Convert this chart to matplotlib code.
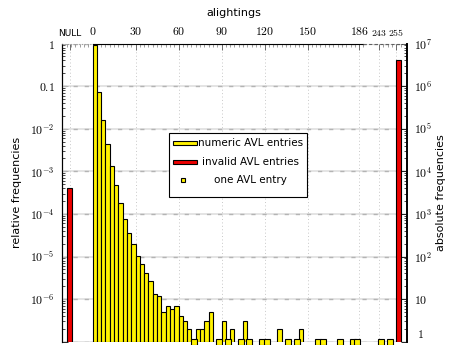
import numpy as np
import matplotlib
matplotlib.use('Agg')
import matplotlib.pyplot as plt
from matplotlib.ticker import FixedLocator, FuncFormatter, LogLocator, NullFormatter
from matplotlib.patches import Rectangle
from matplotlib.lines import Line2D
import matplotlib.transforms as mtransforms

plt.rcParams['mathtext.fontset'] = 'cm'
plt.rcParams['font.family'] = ['DejaVu Sans']

# ---------------- data ----------------
bin_width = 3
numeric_bin_starts = list(range(0, 186, 3)) + [243, 249]
numeric_counts = [
    9100000, 720000, 160000, 43000, 13500, 4700, 1780, 740, 347, 200,
    105, 65, 41, 26, 13, 12, 5, 7, 6, 7,
    4, 3, 2, 1, 2, 2, 3, 5, 0, 1,
    3, 1, 2, 0, 1, 3, 1, 0, 0, 1,
    1, 0, 0, 2, 0, 1, 0, 1, 2, 0,
    0, 0, 1, 1, 0, 0, 0, 1, 0, 0,
    1, 1,
    1, 1,
]
invalid_positions = [-17.5, 255]
invalid_counts = [4000, 4000000]
invalid_width = 3.5
total_entries = 1e7

top_tick_values = [-15.75, 0, 30, 60, 90, 120, 150, 186, 243, 255]
top_tick_labels = ['NULL', '0', '30', '60', '90', '120', '150', '186', '243', '255']

legend_labels = ['numeric AVL entries', 'invalid AVL entries', 'one AVL entry']

YELLOW = '#fff200'
RED = '#ee0000'

# axis break: values between 190 and 240 are compressed
brk_in = np.array([-1000., 190., 240., 1000.])
brk_out = np.array([-1000., 190., 197., 957.])
def fwd(v):
    return np.interp(v, brk_in, brk_out)
def inv(u):
    return np.interp(u, brk_out, brk_in)

# ---------------- figure ----------------
W, H = 453, 345
fig = plt.figure(figsize=(W / 100, H / 100), dpi=100)
ax = fig.add_axes([61.7 / W, 3.3 / H, 345 / W, 298.2 / H])
ax.set_xscale('function', functions=(fwd, inv))
ax.set_yscale('log')
ax.set_xlim(-21.5, 262.2)
ax.set_ylim(1, 1e7)

starts = np.array(numeric_bin_starts, dtype=float)
counts = np.array(numeric_counts, dtype=float)
multi = counts >= 2
single = counts == 1

ax.bar(starts[multi], counts[multi] - 1, width=bin_width, bottom=1, align='edge',
       color=YELLOW, edgecolor='black', linewidth=0.8, zorder=3)
ax.plot(starts[single] + bin_width / 2, counts[single], 's', ms=4.2,
        mfc=YELLOW, mec='black', mew=0.8, zorder=4, clip_on=False)
ax.bar(invalid_positions, np.array(invalid_counts) - 1, width=invalid_width, bottom=1,
       align='edge', color=RED, edgecolor='black', linewidth=0.8, zorder=3)

# grid
ax.grid(False)
for k in range(0, 8):
    ax.axhline(10.0 ** k, color='#dcdcdc', lw=1.1, zorder=1)
    ax.axhline(10.0 ** k, color='#b4b4b4', lw=1.0, ls=(0, (3, 5)), zorder=1)
for v in top_tick_values:
    ax.axvline(v, color='#c8c8c8', lw=0.7, ls=(0, (1, 2.5)), zorder=1)

# spines
for s in ['top', 'bottom']:
    ax.spines[s].set_visible(False)
ax.spines['left'].set_linewidth(0.8)
ax.spines['right'].set_linewidth(1.4)
xt = ax.get_xaxis_transform()
ax.plot([-21.5, 0], [1, 1], transform=xt, color='#a0a0a0', lw=0.8, ls=(0, (1, 1.5)), clip_on=False, zorder=5)
ax.plot([0, 189], [1, 1], transform=xt, color='black', lw=0.8, clip_on=False, zorder=5)
ax.plot([189, 262.2], [1, 1], transform=xt, color='#606060', lw=0.8, ls=(0, (3, 2)), clip_on=False, zorder=5)

# top x axis
ax.xaxis.tick_top()
ax.xaxis.set_label_position('top')
ax.xaxis.set_major_locator(FixedLocator(top_tick_values))
ax.xaxis.set_major_formatter(FuncFormatter(lambda v, p: ''))
minor_x = [m for m in range(-21, 190, 3) if m not in top_tick_values] + [246, 249, 252, 258]
ax.xaxis.set_minor_locator(FixedLocator(minor_x))
ax.tick_params(axis='x', which='major', direction='in', length=4, width=0.6, color='#555555',
               top=True, bottom=False, labeltop=False, labelbottom=False)
ax.tick_params(axis='x', which='minor', direction='in', length=2, width=0.5, color='#777777',
               top=True, bottom=False)
for v, lab in zip(top_tick_values, top_tick_labels):
    if lab == 'NULL':
        ax.text(v, 1.02, lab, transform=xt, ha='center', va='bottom', fontsize=6.5,
                family='DejaVu Sans')
    elif lab in ('243', '255'):
        ax.text(v, 1.02, '$' + lab + '$', transform=xt, ha='center', va='bottom', fontsize=7)
    else:
        ax.text(v, 1.02, '$' + lab + '$', transform=xt, ha='center', va='bottom', fontsize=8.5)
ax.set_xlabel('alightings', fontsize=8, labelpad=16.5)

# right y axis: absolute frequencies
def abs_fmt(v, p):
    k = int(round(np.log10(v)))
    if k <= 0 or k > 7:
        return ''
    if k == 1:
        return '$10$'
    return '$10^{%d}$' % k
ax.yaxis.tick_right()
ax.yaxis.set_label_position('right')
ax.yaxis.set_major_locator(LogLocator(base=10, numticks=20))
ax.yaxis.set_major_formatter(FuncFormatter(abs_fmt))
ax.yaxis.set_minor_locator(LogLocator(base=10, subs=np.arange(2, 10), numticks=20))
ax.yaxis.set_minor_formatter(NullFormatter())
ax.tick_params(axis='y', which='major', direction='in', length=4, width=0.6, labelsize=8.5, pad=5,
               left=False, right=True)
ax.tick_params(axis='y', which='minor', direction='in', length=2, width=0.5, left=False, right=True)
ax.set_ylabel('absolute frequencies', fontsize=8, labelpad=3)
# the bottom label "1" lifted slightly so it stays inside the picture
yt = mtransforms.blended_transform_factory(ax.transAxes, ax.transData)
ax.text(1.0, 1, '$1$', transform=yt + mtransforms.ScaledTranslation(7.5 / 72, 0.5 / 72, fig.dpi_scale_trans),
        ha='left', va='bottom', fontsize=8.5, clip_on=False)

# left y axis: relative frequencies
sec = ax.secondary_yaxis('left', functions=(lambda c: c / total_entries,
                                           lambda r: r * total_entries))
def rel_fmt(v, p):
    k = int(round(np.log10(v)))
    if k > 0 or k <= -7:
        return ''
    if k == 0:
        return '$1$'
    if k == -1:
        return '$0.1$'
    return '$10^{%d}$' % k
sec.yaxis.set_major_locator(LogLocator(base=10, numticks=20))
sec.yaxis.set_major_formatter(FuncFormatter(rel_fmt))
sec.yaxis.set_minor_locator(LogLocator(base=10, subs=np.arange(2, 10), numticks=20))
sec.yaxis.set_minor_formatter(NullFormatter())
sec.tick_params(axis='y', which='major', direction='in', length=4, width=0.6, labelsize=8.5, pad=5)
sec.tick_params(axis='y', which='minor', direction='in', length=2, width=0.5)
sec.spines['left'].set_linewidth(0.8)
sec.set_ylabel('relative frequencies', fontsize=8, labelpad=6)

# legend (manual, centred text like the original)
ta = ax.transAxes
ax.add_patch(Rectangle((0.311, 0.4862), 0.4009, 0.2147, transform=ta, facecolor='white',
                       edgecolor='black', lw=0.8, zorder=10))
rows_y = [0.6673, 0.6036, 0.5422]
ax.add_patch(Rectangle((0.3217, rows_y[0] - 0.007), 0.0696, 0.014, transform=ta,
                       facecolor=YELLOW, edgecolor='black', lw=0.8, zorder=11))
ax.add_patch(Rectangle((0.3217, rows_y[1] - 0.007), 0.0696, 0.014, transform=ta,
                       facecolor=RED, edgecolor='black', lw=0.8, zorder=11))
ax.add_line(Line2D([0.3525], [rows_y[2]], transform=ta, marker='s', ms=3.5, mfc=YELLOW,
                   mec='black', mew=0.8, ls='none', zorder=11))
for y, lab in zip(rows_y, legend_labels):
    ax.text(0.548, y, lab, transform=ta, ha='center', va='center', fontsize=7.5, zorder=12)

fig.savefig('out.png', dpi=100)
